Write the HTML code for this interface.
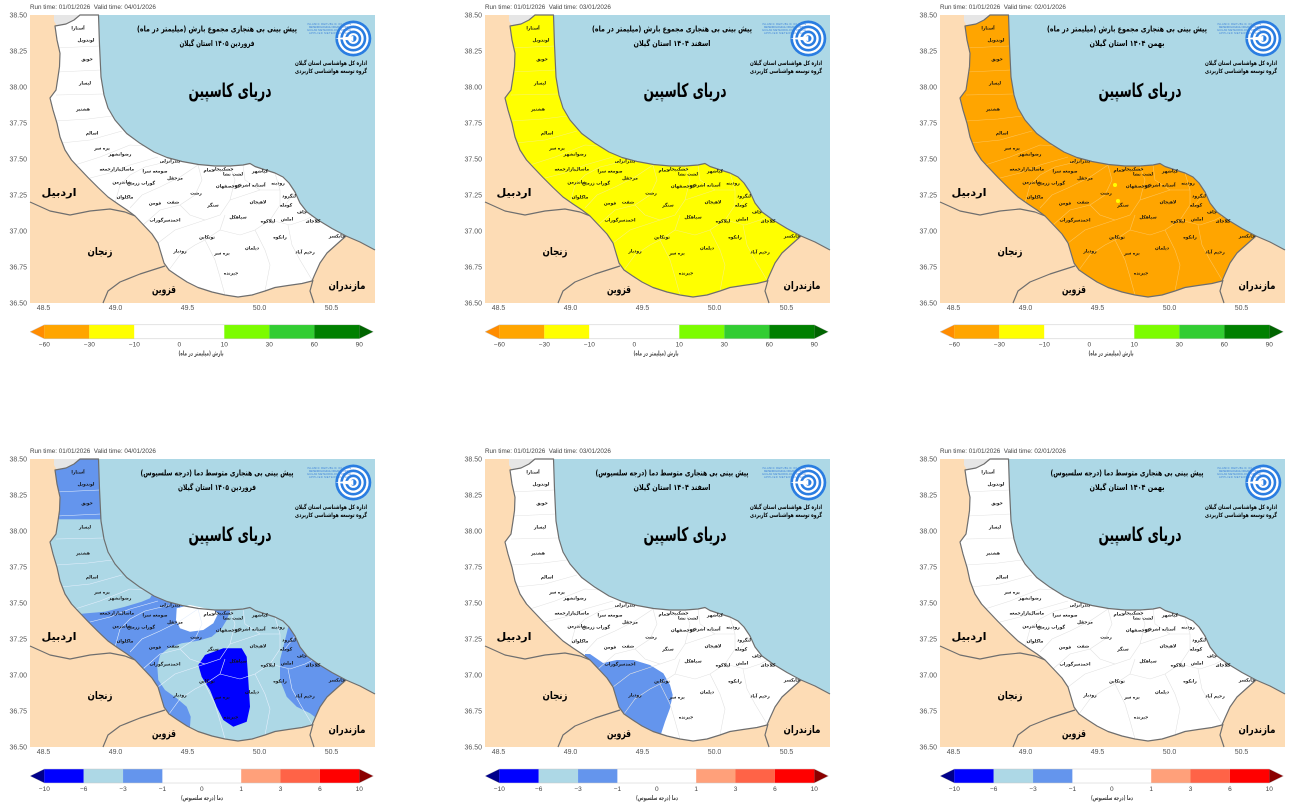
<!DOCTYPE html>
<html><head><meta charset="utf-8">
<style>
html,body{margin:0;padding:0;background:#fff;}
svg{display:block;font-family:"Liberation Sans","DejaVu Sans",sans-serif;}
.fa{direction:rtl;font-family:"DejaVu Sans","Liberation Sans",sans-serif;font-weight:bold;}
.dn text{font-size:4.4px;font-weight:bold;fill:#111;text-anchor:middle;direction:rtl;font-family:"DejaVu Sans",sans-serif;}
.tk text{font-size:7px;fill:#555;}
.rt{font-size:6.3px;fill:#444;}
.cb text{font-size:6.5px;fill:#444;text-anchor:middle;}
</style></head>
<body>
<svg width="1303" height="803" viewBox="0 0 1303 803" xmlns="http://www.w3.org/2000/svg">
<defs>
<path id="sea" d="M68.5,0 L69.5,30 L71,62 L74,80 L78,93 L85,105 L96.7,118.5 L110,128.3 L124,137 L137,142.5 L152,146.5 L168.5,149.5 L185,151 L200,151 L213,150 L220,148.5 L225,151.5 L234,154.5 L245,158 L253,162 L259,168 L265,177 L270,188 L277,197 L288,205 L302,213.5 L316,221 L330,227 L345,235 L345,0 Z"/>
<path id="gil" d="M50,0 L68.5,0 L69.5,30 L71,62 L74,80 L78,93 L85,105 L96.7,118.5 L110,128.3 L124,137 L137,142.5 L152,146.5 L168.5,149.5 L185,151 L200,151 L213,150 L220,148.5 L225,151.5 L234,154.5 L245,158 L253,162 L259,168 L265,177 L270,188 L277,197 L288,205 L302,213.5 L316,221 L307,229 L297,238 L290,248 L285,259 L282,266 L272,268.5 L258,270.5 L245,272.5 L235,276 L222,280 L208,282 L195,280 L182,277 L168,272.5 L157,267 L147,260.5 L139,255 L134,248 L131,238 L128,228 L122,219 L113.5,210 L105,201 L97,195 L88,189 L78,182 L68,172.5 L58,162.5 L48.5,152.5 L41.5,145 L35,135 L30,122 L27,108.3 L23,95 L21,87 L20,83 L26,75 L28,62 L29.5,51.7 L30,38.3 L27,25 L25,11 L36,9 L44,5 Z"/>
<clipPath id="gc"><use href="#gil"/></clipPath>
<g id="dl" fill="none" stroke-width="0.6" clip-path="url(#gc)">
<path d="M26,33 L69.5,31"/>
<path d="M27,57 L71,55"/>
<path d="M26,80 L74,79"/>
<path d="M26,106 L58,104 L82,101"/>
<path d="M31,128 L60,125 L92,116"/>
<path d="M45,150 L70,142 L100,130 L115,131"/>
<path d="M60,163 L80,158 L100,150 L128,142"/>
<path d="M85,188 L90,170 L100,160 L115,152 L140,146"/>
<path d="M100,193 L112,180 L130,172 L150,162 L168,150"/>
<path d="M113,210 L130,195 L150,190 L165,180 L172,165 L168,150"/>
<path d="M150,190 L160,200 L175,205 L190,200 L200,185 L205,165 L200,151"/>
<path d="M128,228 L145,215 L160,210 L175,205"/>
<path d="M139,255 L150,240 L165,230 L175,225 L190,215 L195,200"/>
<path d="M175,225 L185,245 L190,262 L195,280"/>
<path d="M190,215 L210,220 L225,215 L240,205 L250,190 L250,175 L245,158"/>
<path d="M200,185 L215,180 L230,175 L250,175"/>
<path d="M225,215 L235,235 L240,250 L235,276"/>
<path d="M240,205 L260,210 L275,205 L285,200"/>
<path d="M258,210 L262,230 L270,245 L282,265"/>
<path d="M213,150 L215,165 L230,175"/>
<path d="M265,177 L255,190"/>
</g>
<g id="bd" fill="none" stroke="#6e6e6e" stroke-width="1.2" stroke-linejoin="round">
<use href="#gil"/>
<path d="M316,221 L330,227 L345,235"/>
<path d="M0,187 L20,196 L40,200 L60,196 L80,194 L95,197 L105,201"/>
<path d="M135,251 L110,259 L90,267 L78,276 L73,288"/>
<path d="M283,265 L280,276 L284,288"/>
</g>
<g id="logo">
<circle cx="323.3" cy="23.5" r="18" fill="#2a7de1"/>
<circle cx="323.3" cy="23.5" r="15.3" fill="#fff"/>
<circle cx="323.3" cy="23.5" r="13" fill="#2a7de1"/>
<circle cx="323.3" cy="23.5" r="10.4" fill="#fff"/>
<circle cx="323.3" cy="23.5" r="8" fill="#2a7de1"/>
<circle cx="323.3" cy="23.5" r="5.4" fill="#fff"/>
<circle cx="323.3" cy="23.5" r="3.2" fill="#2a7de1"/>
<path d="M305,23.5 L323.3,21 L323.3,26 Z" fill="#fff"/>
</g>
</defs>

<!-- ========== PANEL 1 ========== -->
<g transform="translate(30,15)">
<text class="rt" x="0" y="-6">Run time: 01/01/2026&#160;&#160;Valid time: 04/01/2026</text>
<rect width="345" height="288" fill="#fddcb5"/>
<use href="#sea" fill="#add8e6"/>
<path d="M24,0 L50,0 L44,5 L36,9 L27,11 L24,6 Z" fill="#e6e6e6"/>
<use href="#gil" fill="#ffffff"/>
<use href="#dl" stroke="#e2e2e2"/>
<use href="#bd"/>
<use href="#logo"/>
<g font-size="2.6" fill="#3b80d9" text-anchor="middle"><text x="299" y="10" textLength="44">ISLAMIC REPUBLIC OF IRAN</text><text x="299" y="13" textLength="40">METEOROLOGICAL ORGANIZATION</text><text x="299" y="16" textLength="44">GUILAN METEOROLOGY OFFICE</text><text x="299" y="19" textLength="40">APPLIED METEOROLOGY</text></g>
<text class="fa" x="187" y="16.5" font-size="8" text-anchor="middle" textLength="160" lengthAdjust="spacingAndGlyphs">پیش بینی بی هنجاری مجموع بارش (میلیمتر در ماه)</text>
<text class="fa" x="187" y="31" font-size="8" text-anchor="middle" textLength="75" lengthAdjust="spacingAndGlyphs">فروردین ۱۴۰۵ استان گیلان</text>
<text class="fa" x="301" y="50" font-size="6" text-anchor="middle" textLength="72" lengthAdjust="spacingAndGlyphs">اداره کل هواشناسی استان گیلان</text>
<text class="fa" x="301" y="58" font-size="6" text-anchor="middle" textLength="72" lengthAdjust="spacingAndGlyphs">گروه توسعه هواشناسی کاربردی</text>
<text class="fa" x="200" y="82" font-size="19" text-anchor="middle" textLength="83" lengthAdjust="spacingAndGlyphs">دریای کاسپین</text>
<text class="fa" x="29" y="181" font-size="10.5" text-anchor="middle" textLength="35" lengthAdjust="spacingAndGlyphs">اردبیل</text>
<text class="fa" x="70" y="240" font-size="10.5" text-anchor="middle" textLength="25" lengthAdjust="spacingAndGlyphs">زنجان</text>
<text class="fa" x="134" y="278" font-size="10.5" text-anchor="middle" textLength="24" lengthAdjust="spacingAndGlyphs">قزوین</text>
<text class="fa" x="317" y="274" font-size="10.5" text-anchor="middle" textLength="37" lengthAdjust="spacingAndGlyphs">مازندران</text>
<g class="dn">
<text x="48" y="14.5">آستارا</text><text x="56" y="26.5">لوندویل</text><text x="57" y="45.5">حویق</text><text x="55" y="69.5">لیسار</text><text x="53" y="95.5">هشتپر</text><text x="62" y="119.5">اسالم</text><text x="72" y="134.5">پره سر</text><text x="90" y="140.5">رضوانشهر</text><text x="140" y="147.5">بندرانزلی</text><text x="80" y="155.5">بازارجمعه</text><text x="97" y="155.5">ماسال</text><text x="125" y="157.5">صومعه سرا</text><text x="145" y="164.5">مرجقل</text><text x="92" y="168.5">شاندرمن</text><text x="111" y="169.5">گوراب زرمیخ</text><text x="95" y="183.5">ماکلوان</text><text x="125" y="189.5">فومن</text><text x="143" y="188.5">شفت</text><text x="166" y="179.5">رشت</text><text x="183" y="191.5">سنگر</text><text x="135" y="206.5">احمدسرگوراب</text><text x="179" y="156.5">خمام</text><text x="193" y="155.5">خشکبیجار</text><text x="203" y="160.5">لشت نشا</text><text x="230" y="157.5">کیاشهر</text><text x="198" y="172.5">کوچصفهان</text><text x="220" y="171.5">آستانه اشرفیه</text><text x="248" y="169.5">رودبنه</text><text x="228" y="188.5">لاهیجان</text><text x="259" y="182.5">لنگرود</text><text x="256" y="191.5">کومله</text><text x="272" y="198.5">چاف</text><text x="283" y="207.5">کلاچای</text><text x="257" y="205.5">املش</text><text x="238" y="207.5">لیلاکوه</text><text x="208" y="203.5">سیاهکل</text><text x="177" y="223.5">توتکابن</text><text x="250" y="223.5">رانکوه</text><text x="307" y="222.5">چابکسر</text><text x="222" y="234.5">دیلمان</text><text x="275" y="238.5">رحیم آباد</text><text x="192" y="239.5">بره سر</text><text x="150" y="237.5">رودبار</text><text x="201" y="259.5">جیرنده</text>
</g>
<g class="tk" text-anchor="end"><text x="-3" y="2.5">38.50</text><text x="-3" y="38.5">38.25</text><text x="-3" y="74.5">38.00</text><text x="-3" y="110.5">37.75</text><text x="-3" y="146.5">37.50</text><text x="-3" y="182.5">37.25</text><text x="-3" y="218.5">37.00</text><text x="-3" y="254.5">36.75</text><text x="-3" y="290.5">36.50</text></g>
<g class="tk" text-anchor="middle"><text x="13.5" y="295">48.5</text><text x="85.5" y="295">49.0</text><text x="157.5" y="295">49.5</text><text x="229.5" y="295">50.0</text><text x="301.5" y="295">50.5</text></g>
<g class="cb">
<polygon points="0,316.8 14.3,309.8 14.3,323.8" fill="#ff8c00"/>
<rect x="14.3" y="309.8" width="45" height="14" fill="#ffa500"/>
<rect x="59.3" y="309.8" width="45" height="14" fill="#ffff00"/>
<rect x="104.3" y="309.8" width="90" height="14" fill="#ffffff"/>
<rect x="194.3" y="309.8" width="45" height="14" fill="#7cfc00"/>
<rect x="239.3" y="309.8" width="45" height="14" fill="#32cd32"/>
<rect x="284.3" y="309.8" width="45" height="14" fill="#008000"/>
<polygon points="329.3,309.8 343.5,316.8 329.3,323.8" fill="#006400"/>
<polygon points="0,316.8 14.3,309.8 329.3,309.8 343.5,316.8 329.3,323.8 14.3,323.8" fill="none" stroke="#c8c8c8" stroke-width="0.5"/>
<text x="14.3" y="331.5">−60</text><text x="59.3" y="331.5">−30</text><text x="104.3" y="331.5">−10</text><text x="149.3" y="331.5">0</text><text x="194.3" y="331.5">10</text><text x="239.3" y="331.5">30</text><text x="284.3" y="331.5">60</text><text x="329.3" y="331.5">90</text>
<text class="fa" x="171" y="340.5" font-size="5.5" fill="#222" textLength="45" lengthAdjust="spacingAndGlyphs">بارش (میلیمتر در ماه)</text>
</g>
</g>

<!-- ========== PANEL 2 ========== -->
<g transform="translate(485,15)">
<text class="rt" x="0" y="-6">Run time: 01/01/2026&#160;&#160;Valid time: 03/01/2026</text>
<rect width="345" height="288" fill="#fddcb5"/>
<use href="#sea" fill="#add8e6"/>
<path d="M24,0 L50,0 L44,5 L36,9 L27,11 L24,6 Z" fill="#e6e6e6"/>
<use href="#gil" fill="#ffff00"/>
<use href="#dl" stroke="#f6f07a"/>
<use href="#bd"/>
<use href="#logo"/>
<g font-size="2.6" fill="#3b80d9" text-anchor="middle"><text x="299" y="10" textLength="44">ISLAMIC REPUBLIC OF IRAN</text><text x="299" y="13" textLength="40">METEOROLOGICAL ORGANIZATION</text><text x="299" y="16" textLength="44">GUILAN METEOROLOGY OFFICE</text><text x="299" y="19" textLength="40">APPLIED METEOROLOGY</text></g>
<text class="fa" x="187" y="16.5" font-size="8" text-anchor="middle" textLength="160" lengthAdjust="spacingAndGlyphs">پیش بینی بی هنجاری مجموع بارش (میلیمتر در ماه)</text>
<text class="fa" x="187" y="31" font-size="8" text-anchor="middle" textLength="77" lengthAdjust="spacingAndGlyphs">اسفند ۱۴۰۴ استان گیلان</text>
<text class="fa" x="301" y="50" font-size="6" text-anchor="middle" textLength="72" lengthAdjust="spacingAndGlyphs">اداره کل هواشناسی استان گیلان</text>
<text class="fa" x="301" y="58" font-size="6" text-anchor="middle" textLength="72" lengthAdjust="spacingAndGlyphs">گروه توسعه هواشناسی کاربردی</text>
<text class="fa" x="200" y="82" font-size="19" text-anchor="middle" textLength="83" lengthAdjust="spacingAndGlyphs">دریای کاسپین</text>
<text class="fa" x="29" y="181" font-size="10.5" text-anchor="middle" textLength="35" lengthAdjust="spacingAndGlyphs">اردبیل</text>
<text class="fa" x="70" y="240" font-size="10.5" text-anchor="middle" textLength="25" lengthAdjust="spacingAndGlyphs">زنجان</text>
<text class="fa" x="134" y="278" font-size="10.5" text-anchor="middle" textLength="24" lengthAdjust="spacingAndGlyphs">قزوین</text>
<text class="fa" x="317" y="274" font-size="10.5" text-anchor="middle" textLength="37" lengthAdjust="spacingAndGlyphs">مازندران</text>
<g class="dn">
<text x="48" y="14.5">آستارا</text><text x="56" y="26.5">لوندویل</text><text x="57" y="45.5">حویق</text><text x="55" y="69.5">لیسار</text><text x="53" y="95.5">هشتپر</text><text x="62" y="119.5">اسالم</text><text x="72" y="134.5">پره سر</text><text x="90" y="140.5">رضوانشهر</text><text x="140" y="147.5">بندرانزلی</text><text x="80" y="155.5">بازارجمعه</text><text x="97" y="155.5">ماسال</text><text x="125" y="157.5">صومعه سرا</text><text x="145" y="164.5">مرجقل</text><text x="92" y="168.5">شاندرمن</text><text x="111" y="169.5">گوراب زرمیخ</text><text x="95" y="183.5">ماکلوان</text><text x="125" y="189.5">فومن</text><text x="143" y="188.5">شفت</text><text x="166" y="179.5">رشت</text><text x="183" y="191.5">سنگر</text><text x="135" y="206.5">احمدسرگوراب</text><text x="179" y="156.5">خمام</text><text x="193" y="155.5">خشکبیجار</text><text x="203" y="160.5">لشت نشا</text><text x="230" y="157.5">کیاشهر</text><text x="198" y="172.5">کوچصفهان</text><text x="220" y="171.5">آستانه اشرفیه</text><text x="248" y="169.5">رودبنه</text><text x="228" y="188.5">لاهیجان</text><text x="259" y="182.5">لنگرود</text><text x="256" y="191.5">کومله</text><text x="272" y="198.5">چاف</text><text x="283" y="207.5">کلاچای</text><text x="257" y="205.5">املش</text><text x="238" y="207.5">لیلاکوه</text><text x="208" y="203.5">سیاهکل</text><text x="177" y="223.5">توتکابن</text><text x="250" y="223.5">رانکوه</text><text x="307" y="222.5">چابکسر</text><text x="222" y="234.5">دیلمان</text><text x="275" y="238.5">رحیم آباد</text><text x="192" y="239.5">بره سر</text><text x="150" y="237.5">رودبار</text><text x="201" y="259.5">جیرنده</text>
</g>
<g class="tk" text-anchor="end"><text x="-3" y="2.5">38.50</text><text x="-3" y="38.5">38.25</text><text x="-3" y="74.5">38.00</text><text x="-3" y="110.5">37.75</text><text x="-3" y="146.5">37.50</text><text x="-3" y="182.5">37.25</text><text x="-3" y="218.5">37.00</text><text x="-3" y="254.5">36.75</text><text x="-3" y="290.5">36.50</text></g>
<g class="tk" text-anchor="middle"><text x="13.5" y="295">48.5</text><text x="85.5" y="295">49.0</text><text x="157.5" y="295">49.5</text><text x="229.5" y="295">50.0</text><text x="301.5" y="295">50.5</text></g>
<g class="cb">
<polygon points="0,316.8 14.3,309.8 14.3,323.8" fill="#ff8c00"/>
<rect x="14.3" y="309.8" width="45" height="14" fill="#ffa500"/>
<rect x="59.3" y="309.8" width="45" height="14" fill="#ffff00"/>
<rect x="104.3" y="309.8" width="90" height="14" fill="#ffffff"/>
<rect x="194.3" y="309.8" width="45" height="14" fill="#7cfc00"/>
<rect x="239.3" y="309.8" width="45" height="14" fill="#32cd32"/>
<rect x="284.3" y="309.8" width="45" height="14" fill="#008000"/>
<polygon points="329.3,309.8 343.5,316.8 329.3,323.8" fill="#006400"/>
<polygon points="0,316.8 14.3,309.8 329.3,309.8 343.5,316.8 329.3,323.8 14.3,323.8" fill="none" stroke="#c8c8c8" stroke-width="0.5"/>
<text x="14.3" y="331.5">−60</text><text x="59.3" y="331.5">−30</text><text x="104.3" y="331.5">−10</text><text x="149.3" y="331.5">0</text><text x="194.3" y="331.5">10</text><text x="239.3" y="331.5">30</text><text x="284.3" y="331.5">60</text><text x="329.3" y="331.5">90</text>
<text class="fa" x="171" y="340.5" font-size="5.5" fill="#222" textLength="45" lengthAdjust="spacingAndGlyphs">بارش (میلیمتر در ماه)</text>
</g>
</g>

<!-- ========== PANEL 3 ========== -->
<g transform="translate(940,15)">
<text class="rt" x="0" y="-6">Run time: 01/01/2026&#160;&#160;Valid time: 02/01/2026</text>
<rect width="345" height="288" fill="#fddcb5"/>
<use href="#sea" fill="#add8e6"/>
<path d="M24,0 L50,0 L44,5 L36,9 L27,11 L24,6 Z" fill="#e6e6e6"/>
<use href="#gil" fill="#ffa500"/>
<circle cx="175" cy="170" r="2" fill="#ffff00"/>
<circle cx="178" cy="186" r="2" fill="#ffff00"/>
<use href="#dl" stroke="#fcc45a"/>
<use href="#bd"/>
<use href="#logo"/>
<g font-size="2.6" fill="#3b80d9" text-anchor="middle"><text x="299" y="10" textLength="44">ISLAMIC REPUBLIC OF IRAN</text><text x="299" y="13" textLength="40">METEOROLOGICAL ORGANIZATION</text><text x="299" y="16" textLength="44">GUILAN METEOROLOGY OFFICE</text><text x="299" y="19" textLength="40">APPLIED METEOROLOGY</text></g>
<text class="fa" x="187" y="16.5" font-size="8" text-anchor="middle" textLength="160" lengthAdjust="spacingAndGlyphs">پیش بینی بی هنجاری مجموع بارش (میلیمتر در ماه)</text>
<text class="fa" x="187" y="31" font-size="8" text-anchor="middle" textLength="75" lengthAdjust="spacingAndGlyphs">بهمن ۱۴۰۴ استان گیلان</text>
<text class="fa" x="301" y="50" font-size="6" text-anchor="middle" textLength="72" lengthAdjust="spacingAndGlyphs">اداره کل هواشناسی استان گیلان</text>
<text class="fa" x="301" y="58" font-size="6" text-anchor="middle" textLength="72" lengthAdjust="spacingAndGlyphs">گروه توسعه هواشناسی کاربردی</text>
<text class="fa" x="200" y="82" font-size="19" text-anchor="middle" textLength="83" lengthAdjust="spacingAndGlyphs">دریای کاسپین</text>
<text class="fa" x="29" y="181" font-size="10.5" text-anchor="middle" textLength="35" lengthAdjust="spacingAndGlyphs">اردبیل</text>
<text class="fa" x="70" y="240" font-size="10.5" text-anchor="middle" textLength="25" lengthAdjust="spacingAndGlyphs">زنجان</text>
<text class="fa" x="134" y="278" font-size="10.5" text-anchor="middle" textLength="24" lengthAdjust="spacingAndGlyphs">قزوین</text>
<text class="fa" x="317" y="274" font-size="10.5" text-anchor="middle" textLength="37" lengthAdjust="spacingAndGlyphs">مازندران</text>
<g class="dn">
<text x="48" y="14.5">آستارا</text><text x="56" y="26.5">لوندویل</text><text x="57" y="45.5">حویق</text><text x="55" y="69.5">لیسار</text><text x="53" y="95.5">هشتپر</text><text x="62" y="119.5">اسالم</text><text x="72" y="134.5">پره سر</text><text x="90" y="140.5">رضوانشهر</text><text x="140" y="147.5">بندرانزلی</text><text x="80" y="155.5">بازارجمعه</text><text x="97" y="155.5">ماسال</text><text x="125" y="157.5">صومعه سرا</text><text x="145" y="164.5">مرجقل</text><text x="92" y="168.5">شاندرمن</text><text x="111" y="169.5">گوراب زرمیخ</text><text x="95" y="183.5">ماکلوان</text><text x="125" y="189.5">فومن</text><text x="143" y="188.5">شفت</text><text x="166" y="179.5">رشت</text><text x="183" y="191.5">سنگر</text><text x="135" y="206.5">احمدسرگوراب</text><text x="179" y="156.5">خمام</text><text x="193" y="155.5">خشکبیجار</text><text x="203" y="160.5">لشت نشا</text><text x="230" y="157.5">کیاشهر</text><text x="198" y="172.5">کوچصفهان</text><text x="220" y="171.5">آستانه اشرفیه</text><text x="248" y="169.5">رودبنه</text><text x="228" y="188.5">لاهیجان</text><text x="259" y="182.5">لنگرود</text><text x="256" y="191.5">کومله</text><text x="272" y="198.5">چاف</text><text x="283" y="207.5">کلاچای</text><text x="257" y="205.5">املش</text><text x="238" y="207.5">لیلاکوه</text><text x="208" y="203.5">سیاهکل</text><text x="177" y="223.5">توتکابن</text><text x="250" y="223.5">رانکوه</text><text x="307" y="222.5">چابکسر</text><text x="222" y="234.5">دیلمان</text><text x="275" y="238.5">رحیم آباد</text><text x="192" y="239.5">بره سر</text><text x="150" y="237.5">رودبار</text><text x="201" y="259.5">جیرنده</text>
</g>
<g class="tk" text-anchor="end"><text x="-3" y="2.5">38.50</text><text x="-3" y="38.5">38.25</text><text x="-3" y="74.5">38.00</text><text x="-3" y="110.5">37.75</text><text x="-3" y="146.5">37.50</text><text x="-3" y="182.5">37.25</text><text x="-3" y="218.5">37.00</text><text x="-3" y="254.5">36.75</text><text x="-3" y="290.5">36.50</text></g>
<g class="tk" text-anchor="middle"><text x="13.5" y="295">48.5</text><text x="85.5" y="295">49.0</text><text x="157.5" y="295">49.5</text><text x="229.5" y="295">50.0</text><text x="301.5" y="295">50.5</text></g>
<g class="cb">
<polygon points="0,316.8 14.3,309.8 14.3,323.8" fill="#ff8c00"/>
<rect x="14.3" y="309.8" width="45" height="14" fill="#ffa500"/>
<rect x="59.3" y="309.8" width="45" height="14" fill="#ffff00"/>
<rect x="104.3" y="309.8" width="90" height="14" fill="#ffffff"/>
<rect x="194.3" y="309.8" width="45" height="14" fill="#7cfc00"/>
<rect x="239.3" y="309.8" width="45" height="14" fill="#32cd32"/>
<rect x="284.3" y="309.8" width="45" height="14" fill="#008000"/>
<polygon points="329.3,309.8 343.5,316.8 329.3,323.8" fill="#006400"/>
<polygon points="0,316.8 14.3,309.8 329.3,309.8 343.5,316.8 329.3,323.8 14.3,323.8" fill="none" stroke="#c8c8c8" stroke-width="0.5"/>
<text x="14.3" y="331.5">−60</text><text x="59.3" y="331.5">−30</text><text x="104.3" y="331.5">−10</text><text x="149.3" y="331.5">0</text><text x="194.3" y="331.5">10</text><text x="239.3" y="331.5">30</text><text x="284.3" y="331.5">60</text><text x="329.3" y="331.5">90</text>
<text class="fa" x="171" y="340.5" font-size="5.5" fill="#222" textLength="45" lengthAdjust="spacingAndGlyphs">بارش (میلیمتر در ماه)</text>
</g>
</g>

<!-- ========== PANEL 4 ========== -->
<g transform="translate(30,459)">
<text class="rt" x="0" y="-6">Run time: 01/01/2026&#160;&#160;Valid time: 04/01/2026</text>
<rect width="345" height="288" fill="#fddcb5"/>
<use href="#sea" fill="#add8e6"/>
<path d="M24,0 L50,0 L44,5 L36,9 L27,11 L24,6 Z" fill="#e6e6e6"/>
<use href="#gil" fill="#add8e6"/>
<g clip-path="url(#gc)" fill="#6495ed">
<rect x="0" y="0" width="100" height="60.3"/>
<polygon points="0,160 56.7,154.3 75,152.7 95,147.7 111.7,142.7 120,139.3 125,130 200,130 200,152.7 196.7,161 191.7,169.3 181.7,177.7 168.3,181.7 151.7,184.3 138.3,189.3 130,196 127.3,207.7 128.3,221 135,231 146.7,239.3 156.7,247.7 160.7,257.7 160,267.7 160,290 0,290"/>
<polygon points="256.7,150 260,161 255,181 250,201 250,221 256.7,237.7 266.7,247.7 280,254.3 290,262 320,262 320,150"/>
</g>
<path d="M146.7,149.3 L160,146 L183.3,151 L188.3,154.3 L183.3,164.3 L173.3,171 L160,172.7 L150,169.3 L146,161 Z" fill="#ffffff"/>
<path d="M175,196 L193.3,189.3 L211.7,189.3 L216.7,197.7 L218.3,221 L220,247.7 L216.7,262.7 L203.3,267.7 L193.3,261 L186.7,247.7 L180,231 L171.7,217.7 L168.3,206 Z" fill="#0000ff"/>
<use href="#dl" stroke="#e4eefc"/>
<use href="#bd"/>
<use href="#logo"/>
<g font-size="2.6" fill="#3b80d9" text-anchor="middle"><text x="299" y="10" textLength="44">ISLAMIC REPUBLIC OF IRAN</text><text x="299" y="13" textLength="40">METEOROLOGICAL ORGANIZATION</text><text x="299" y="16" textLength="44">GUILAN METEOROLOGY OFFICE</text><text x="299" y="19" textLength="40">APPLIED METEOROLOGY</text></g>
<text class="fa" x="187" y="16.5" font-size="8" text-anchor="middle" textLength="153" lengthAdjust="spacingAndGlyphs">پیش بینی بی هنجاری متوسط دما (درجه سلسیوس)</text>
<text class="fa" x="187" y="31" font-size="8" text-anchor="middle" textLength="78" lengthAdjust="spacingAndGlyphs">فروردین ۱۴۰۵ استان گیلان</text>
<text class="fa" x="301" y="50" font-size="6" text-anchor="middle" textLength="72" lengthAdjust="spacingAndGlyphs">اداره کل هواشناسی استان گیلان</text>
<text class="fa" x="301" y="58" font-size="6" text-anchor="middle" textLength="72" lengthAdjust="spacingAndGlyphs">گروه توسعه هواشناسی کاربردی</text>
<text class="fa" x="200" y="82" font-size="19" text-anchor="middle" textLength="83" lengthAdjust="spacingAndGlyphs">دریای کاسپین</text>
<text class="fa" x="29" y="181" font-size="10.5" text-anchor="middle" textLength="35" lengthAdjust="spacingAndGlyphs">اردبیل</text>
<text class="fa" x="70" y="240" font-size="10.5" text-anchor="middle" textLength="25" lengthAdjust="spacingAndGlyphs">زنجان</text>
<text class="fa" x="134" y="278" font-size="10.5" text-anchor="middle" textLength="24" lengthAdjust="spacingAndGlyphs">قزوین</text>
<text class="fa" x="317" y="274" font-size="10.5" text-anchor="middle" textLength="37" lengthAdjust="spacingAndGlyphs">مازندران</text>
<g class="dn">
<text x="48" y="14.5">آستارا</text><text x="56" y="26.5">لوندویل</text><text x="57" y="45.5">حویق</text><text x="55" y="69.5">لیسار</text><text x="53" y="95.5">هشتپر</text><text x="62" y="119.5">اسالم</text><text x="72" y="134.5">پره سر</text><text x="90" y="140.5">رضوانشهر</text><text x="140" y="147.5">بندرانزلی</text><text x="80" y="155.5">بازارجمعه</text><text x="97" y="155.5">ماسال</text><text x="125" y="157.5">صومعه سرا</text><text x="145" y="164.5">مرجقل</text><text x="92" y="168.5">شاندرمن</text><text x="111" y="169.5">گوراب زرمیخ</text><text x="95" y="183.5">ماکلوان</text><text x="125" y="189.5">فومن</text><text x="143" y="188.5">شفت</text><text x="166" y="179.5">رشت</text><text x="183" y="191.5">سنگر</text><text x="135" y="206.5">احمدسرگوراب</text><text x="179" y="156.5">خمام</text><text x="193" y="155.5">خشکبیجار</text><text x="203" y="160.5">لشت نشا</text><text x="230" y="157.5">کیاشهر</text><text x="198" y="172.5">کوچصفهان</text><text x="220" y="171.5">آستانه اشرفیه</text><text x="248" y="169.5">رودبنه</text><text x="228" y="188.5">لاهیجان</text><text x="259" y="182.5">لنگرود</text><text x="256" y="191.5">کومله</text><text x="272" y="198.5">چاف</text><text x="283" y="207.5">کلاچای</text><text x="257" y="205.5">املش</text><text x="238" y="207.5">لیلاکوه</text><text x="208" y="203.5">سیاهکل</text><text x="177" y="223.5">توتکابن</text><text x="250" y="223.5">رانکوه</text><text x="307" y="222.5">چابکسر</text><text x="222" y="234.5">دیلمان</text><text x="275" y="238.5">رحیم آباد</text><text x="192" y="239.5">بره سر</text><text x="150" y="237.5">رودبار</text><text x="201" y="259.5">جیرنده</text>
</g>
<g class="tk" text-anchor="end"><text x="-3" y="2.5">38.50</text><text x="-3" y="38.5">38.25</text><text x="-3" y="74.5">38.00</text><text x="-3" y="110.5">37.75</text><text x="-3" y="146.5">37.50</text><text x="-3" y="182.5">37.25</text><text x="-3" y="218.5">37.00</text><text x="-3" y="254.5">36.75</text><text x="-3" y="290.5">36.50</text></g>
<g class="tk" text-anchor="middle"><text x="13.5" y="295">48.5</text><text x="85.5" y="295">49.0</text><text x="157.5" y="295">49.5</text><text x="229.5" y="295">50.0</text><text x="301.5" y="295">50.5</text></g>
<g class="cb">
<polygon points="0,317 14.3,310 14.3,324" fill="#00008b"/>
<rect x="14.3" y="310" width="39.4" height="14" fill="#0000ff"/>
<rect x="53.7" y="310" width="39.4" height="14" fill="#add8e6"/>
<rect x="93.05" y="310" width="39.4" height="14" fill="#6495ed"/>
<rect x="132.4" y="310" width="78.8" height="14" fill="#ffffff"/>
<rect x="211.2" y="310" width="39.4" height="14" fill="#ffa07a"/>
<rect x="250.5" y="310" width="39.4" height="14" fill="#ff6347"/>
<rect x="289.9" y="310" width="39.4" height="14" fill="#ff0000"/>
<polygon points="329.3,310 343.5,317 329.3,324" fill="#8b0000"/>
<polygon points="0,317 14.3,310 329.3,310 343.5,317 329.3,324 14.3,324" fill="none" stroke="#c8c8c8" stroke-width="0.5"/>
<text x="14.3" y="331.8">−10</text><text x="53.7" y="331.8">−6</text><text x="93.05" y="331.8">−3</text><text x="132.4" y="331.8">−1</text><text x="171.8" y="331.8">0</text><text x="211.2" y="331.8">1</text><text x="250.5" y="331.8">3</text><text x="289.9" y="331.8">6</text><text x="329.3" y="331.8">10</text>
<text class="fa" x="172" y="341" font-size="5.5" fill="#222" textLength="42" lengthAdjust="spacingAndGlyphs">دما (درجه سلسیوس)</text>
</g>
</g>

<!-- ========== PANEL 5 ========== -->
<g transform="translate(485,459)">
<text class="rt" x="0" y="-6">Run time: 01/01/2026&#160;&#160;Valid time: 03/01/2026</text>
<rect width="345" height="288" fill="#fddcb5"/>
<use href="#sea" fill="#add8e6"/>
<path d="M24,0 L50,0 L44,5 L36,9 L27,11 L24,6 Z" fill="#e6e6e6"/>
<use href="#gil" fill="#ffffff"/>
<g clip-path="url(#gc)" fill="#6495ed">
<polygon points="105,195 118,204 131.7,201 148.3,201 165,206 178.3,214.3 185,226 187.7,236 185,249.3 180,262.7 176,275 176,290 100,290 100,195"/>
</g>
<use href="#dl" stroke="#e2e2e2"/>
<use href="#bd"/>
<use href="#logo"/>
<g font-size="2.6" fill="#3b80d9" text-anchor="middle"><text x="299" y="10" textLength="44">ISLAMIC REPUBLIC OF IRAN</text><text x="299" y="13" textLength="40">METEOROLOGICAL ORGANIZATION</text><text x="299" y="16" textLength="44">GUILAN METEOROLOGY OFFICE</text><text x="299" y="19" textLength="40">APPLIED METEOROLOGY</text></g>
<text class="fa" x="187" y="16.5" font-size="8" text-anchor="middle" textLength="153" lengthAdjust="spacingAndGlyphs">پیش بینی بی هنجاری متوسط دما (درجه سلسیوس)</text>
<text class="fa" x="187" y="31" font-size="8" text-anchor="middle" textLength="77" lengthAdjust="spacingAndGlyphs">اسفند ۱۴۰۴ استان گیلان</text>
<text class="fa" x="301" y="50" font-size="6" text-anchor="middle" textLength="72" lengthAdjust="spacingAndGlyphs">اداره کل هواشناسی استان گیلان</text>
<text class="fa" x="301" y="58" font-size="6" text-anchor="middle" textLength="72" lengthAdjust="spacingAndGlyphs">گروه توسعه هواشناسی کاربردی</text>
<text class="fa" x="200" y="82" font-size="19" text-anchor="middle" textLength="83" lengthAdjust="spacingAndGlyphs">دریای کاسپین</text>
<text class="fa" x="29" y="181" font-size="10.5" text-anchor="middle" textLength="35" lengthAdjust="spacingAndGlyphs">اردبیل</text>
<text class="fa" x="70" y="240" font-size="10.5" text-anchor="middle" textLength="25" lengthAdjust="spacingAndGlyphs">زنجان</text>
<text class="fa" x="134" y="278" font-size="10.5" text-anchor="middle" textLength="24" lengthAdjust="spacingAndGlyphs">قزوین</text>
<text class="fa" x="317" y="274" font-size="10.5" text-anchor="middle" textLength="37" lengthAdjust="spacingAndGlyphs">مازندران</text>
<g class="dn">
<text x="48" y="14.5">آستارا</text><text x="56" y="26.5">لوندویل</text><text x="57" y="45.5">حویق</text><text x="55" y="69.5">لیسار</text><text x="53" y="95.5">هشتپر</text><text x="62" y="119.5">اسالم</text><text x="72" y="134.5">پره سر</text><text x="90" y="140.5">رضوانشهر</text><text x="140" y="147.5">بندرانزلی</text><text x="80" y="155.5">بازارجمعه</text><text x="97" y="155.5">ماسال</text><text x="125" y="157.5">صومعه سرا</text><text x="145" y="164.5">مرجقل</text><text x="92" y="168.5">شاندرمن</text><text x="111" y="169.5">گوراب زرمیخ</text><text x="95" y="183.5">ماکلوان</text><text x="125" y="189.5">فومن</text><text x="143" y="188.5">شفت</text><text x="166" y="179.5">رشت</text><text x="183" y="191.5">سنگر</text><text x="135" y="206.5">احمدسرگوراب</text><text x="179" y="156.5">خمام</text><text x="193" y="155.5">خشکبیجار</text><text x="203" y="160.5">لشت نشا</text><text x="230" y="157.5">کیاشهر</text><text x="198" y="172.5">کوچصفهان</text><text x="220" y="171.5">آستانه اشرفیه</text><text x="248" y="169.5">رودبنه</text><text x="228" y="188.5">لاهیجان</text><text x="259" y="182.5">لنگرود</text><text x="256" y="191.5">کومله</text><text x="272" y="198.5">چاف</text><text x="283" y="207.5">کلاچای</text><text x="257" y="205.5">املش</text><text x="238" y="207.5">لیلاکوه</text><text x="208" y="203.5">سیاهکل</text><text x="177" y="223.5">توتکابن</text><text x="250" y="223.5">رانکوه</text><text x="307" y="222.5">چابکسر</text><text x="222" y="234.5">دیلمان</text><text x="275" y="238.5">رحیم آباد</text><text x="192" y="239.5">بره سر</text><text x="150" y="237.5">رودبار</text><text x="201" y="259.5">جیرنده</text>
</g>
<g class="tk" text-anchor="end"><text x="-3" y="2.5">38.50</text><text x="-3" y="38.5">38.25</text><text x="-3" y="74.5">38.00</text><text x="-3" y="110.5">37.75</text><text x="-3" y="146.5">37.50</text><text x="-3" y="182.5">37.25</text><text x="-3" y="218.5">37.00</text><text x="-3" y="254.5">36.75</text><text x="-3" y="290.5">36.50</text></g>
<g class="tk" text-anchor="middle"><text x="13.5" y="295">48.5</text><text x="85.5" y="295">49.0</text><text x="157.5" y="295">49.5</text><text x="229.5" y="295">50.0</text><text x="301.5" y="295">50.5</text></g>
<g class="cb">
<polygon points="0,317 14.3,310 14.3,324" fill="#00008b"/>
<rect x="14.3" y="310" width="39.4" height="14" fill="#0000ff"/>
<rect x="53.7" y="310" width="39.4" height="14" fill="#add8e6"/>
<rect x="93.05" y="310" width="39.4" height="14" fill="#6495ed"/>
<rect x="132.4" y="310" width="78.8" height="14" fill="#ffffff"/>
<rect x="211.2" y="310" width="39.4" height="14" fill="#ffa07a"/>
<rect x="250.5" y="310" width="39.4" height="14" fill="#ff6347"/>
<rect x="289.9" y="310" width="39.4" height="14" fill="#ff0000"/>
<polygon points="329.3,310 343.5,317 329.3,324" fill="#8b0000"/>
<polygon points="0,317 14.3,310 329.3,310 343.5,317 329.3,324 14.3,324" fill="none" stroke="#c8c8c8" stroke-width="0.5"/>
<text x="14.3" y="331.8">−10</text><text x="53.7" y="331.8">−6</text><text x="93.05" y="331.8">−3</text><text x="132.4" y="331.8">−1</text><text x="171.8" y="331.8">0</text><text x="211.2" y="331.8">1</text><text x="250.5" y="331.8">3</text><text x="289.9" y="331.8">6</text><text x="329.3" y="331.8">10</text>
<text class="fa" x="172" y="341" font-size="5.5" fill="#222" textLength="42" lengthAdjust="spacingAndGlyphs">دما (درجه سلسیوس)</text>
</g>
</g>

<!-- ========== PANEL 6 ========== -->
<g transform="translate(940,459)">
<text class="rt" x="0" y="-6">Run time: 01/01/2026&#160;&#160;Valid time: 02/01/2026</text>
<rect width="345" height="288" fill="#fddcb5"/>
<use href="#sea" fill="#add8e6"/>
<path d="M24,0 L50,0 L44,5 L36,9 L27,11 L24,6 Z" fill="#e6e6e6"/>
<use href="#gil" fill="#ffffff"/>
<use href="#dl" stroke="#e2e2e2"/>
<use href="#bd"/>
<use href="#logo"/>
<g font-size="2.6" fill="#3b80d9" text-anchor="middle"><text x="299" y="10" textLength="44">ISLAMIC REPUBLIC OF IRAN</text><text x="299" y="13" textLength="40">METEOROLOGICAL ORGANIZATION</text><text x="299" y="16" textLength="44">GUILAN METEOROLOGY OFFICE</text><text x="299" y="19" textLength="40">APPLIED METEOROLOGY</text></g>
<text class="fa" x="187" y="16.5" font-size="8" text-anchor="middle" textLength="153" lengthAdjust="spacingAndGlyphs">پیش بینی بی هنجاری متوسط دما (درجه سلسیوس)</text>
<text class="fa" x="187" y="31" font-size="8" text-anchor="middle" textLength="75" lengthAdjust="spacingAndGlyphs">بهمن ۱۴۰۴ استان گیلان</text>
<text class="fa" x="301" y="50" font-size="6" text-anchor="middle" textLength="72" lengthAdjust="spacingAndGlyphs">اداره کل هواشناسی استان گیلان</text>
<text class="fa" x="301" y="58" font-size="6" text-anchor="middle" textLength="72" lengthAdjust="spacingAndGlyphs">گروه توسعه هواشناسی کاربردی</text>
<text class="fa" x="200" y="82" font-size="19" text-anchor="middle" textLength="83" lengthAdjust="spacingAndGlyphs">دریای کاسپین</text>
<text class="fa" x="29" y="181" font-size="10.5" text-anchor="middle" textLength="35" lengthAdjust="spacingAndGlyphs">اردبیل</text>
<text class="fa" x="70" y="240" font-size="10.5" text-anchor="middle" textLength="25" lengthAdjust="spacingAndGlyphs">زنجان</text>
<text class="fa" x="134" y="278" font-size="10.5" text-anchor="middle" textLength="24" lengthAdjust="spacingAndGlyphs">قزوین</text>
<text class="fa" x="317" y="274" font-size="10.5" text-anchor="middle" textLength="37" lengthAdjust="spacingAndGlyphs">مازندران</text>
<g class="dn">
<text x="48" y="14.5">آستارا</text><text x="56" y="26.5">لوندویل</text><text x="57" y="45.5">حویق</text><text x="55" y="69.5">لیسار</text><text x="53" y="95.5">هشتپر</text><text x="62" y="119.5">اسالم</text><text x="72" y="134.5">پره سر</text><text x="90" y="140.5">رضوانشهر</text><text x="140" y="147.5">بندرانزلی</text><text x="80" y="155.5">بازارجمعه</text><text x="97" y="155.5">ماسال</text><text x="125" y="157.5">صومعه سرا</text><text x="145" y="164.5">مرجقل</text><text x="92" y="168.5">شاندرمن</text><text x="111" y="169.5">گوراب زرمیخ</text><text x="95" y="183.5">ماکلوان</text><text x="125" y="189.5">فومن</text><text x="143" y="188.5">شفت</text><text x="166" y="179.5">رشت</text><text x="183" y="191.5">سنگر</text><text x="135" y="206.5">احمدسرگوراب</text><text x="179" y="156.5">خمام</text><text x="193" y="155.5">خشکبیجار</text><text x="203" y="160.5">لشت نشا</text><text x="230" y="157.5">کیاشهر</text><text x="198" y="172.5">کوچصفهان</text><text x="220" y="171.5">آستانه اشرفیه</text><text x="248" y="169.5">رودبنه</text><text x="228" y="188.5">لاهیجان</text><text x="259" y="182.5">لنگرود</text><text x="256" y="191.5">کومله</text><text x="272" y="198.5">چاف</text><text x="283" y="207.5">کلاچای</text><text x="257" y="205.5">املش</text><text x="238" y="207.5">لیلاکوه</text><text x="208" y="203.5">سیاهکل</text><text x="177" y="223.5">توتکابن</text><text x="250" y="223.5">رانکوه</text><text x="307" y="222.5">چابکسر</text><text x="222" y="234.5">دیلمان</text><text x="275" y="238.5">رحیم آباد</text><text x="192" y="239.5">بره سر</text><text x="150" y="237.5">رودبار</text><text x="201" y="259.5">جیرنده</text>
</g>
<g class="tk" text-anchor="end"><text x="-3" y="2.5">38.50</text><text x="-3" y="38.5">38.25</text><text x="-3" y="74.5">38.00</text><text x="-3" y="110.5">37.75</text><text x="-3" y="146.5">37.50</text><text x="-3" y="182.5">37.25</text><text x="-3" y="218.5">37.00</text><text x="-3" y="254.5">36.75</text><text x="-3" y="290.5">36.50</text></g>
<g class="tk" text-anchor="middle"><text x="13.5" y="295">48.5</text><text x="85.5" y="295">49.0</text><text x="157.5" y="295">49.5</text><text x="229.5" y="295">50.0</text><text x="301.5" y="295">50.5</text></g>
<g class="cb">
<polygon points="0,317 14.3,310 14.3,324" fill="#00008b"/>
<rect x="14.3" y="310" width="39.4" height="14" fill="#0000ff"/>
<rect x="53.7" y="310" width="39.4" height="14" fill="#add8e6"/>
<rect x="93.05" y="310" width="39.4" height="14" fill="#6495ed"/>
<rect x="132.4" y="310" width="78.8" height="14" fill="#ffffff"/>
<rect x="211.2" y="310" width="39.4" height="14" fill="#ffa07a"/>
<rect x="250.5" y="310" width="39.4" height="14" fill="#ff6347"/>
<rect x="289.9" y="310" width="39.4" height="14" fill="#ff0000"/>
<polygon points="329.3,310 343.5,317 329.3,324" fill="#8b0000"/>
<polygon points="0,317 14.3,310 329.3,310 343.5,317 329.3,324 14.3,324" fill="none" stroke="#c8c8c8" stroke-width="0.5"/>
<text x="14.3" y="331.8">−10</text><text x="53.7" y="331.8">−6</text><text x="93.05" y="331.8">−3</text><text x="132.4" y="331.8">−1</text><text x="171.8" y="331.8">0</text><text x="211.2" y="331.8">1</text><text x="250.5" y="331.8">3</text><text x="289.9" y="331.8">6</text><text x="329.3" y="331.8">10</text>
<text class="fa" x="172" y="341" font-size="5.5" fill="#222" textLength="42" lengthAdjust="spacingAndGlyphs">دما (درجه سلسیوس)</text>
</g>
</g>
</svg>
</body></html>
